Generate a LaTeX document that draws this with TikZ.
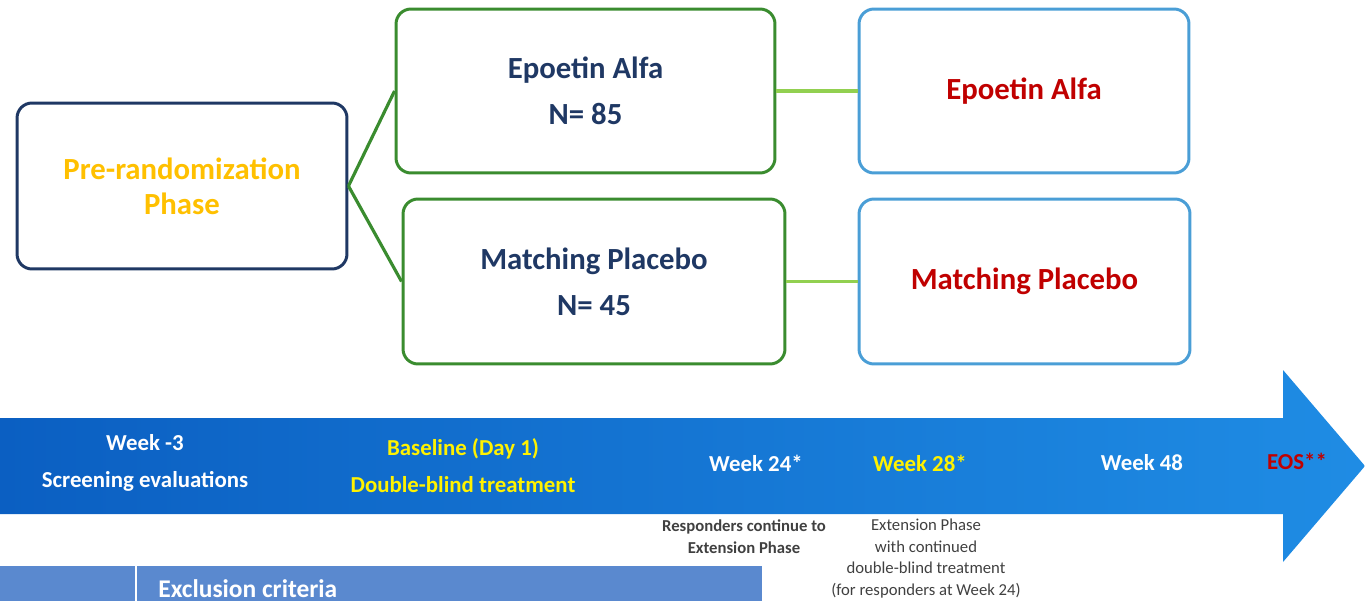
\documentclass[tikz,border=0pt]{standalone}
\usepackage{fontspec}
\setmainfont{Carlito}
\usetikzlibrary{positioning}

\definecolor{navy}{HTML}{1F3864}
\definecolor{boxgreen}{HTML}{3A8C2F}
\definecolor{lightgreen}{HTML}{92D050}
\definecolor{skyline}{HTML}{4A9ED6}
\definecolor{gold}{HTML}{FFC000}
\definecolor{darkred}{HTML}{C00000}
\definecolor{stripblue}{HTML}{5A89CF}
\definecolor{graytext}{HTML}{404040}
\definecolor{arrowdark}{HTML}{0B5FC2}
\definecolor{arrowlight}{HTML}{1F8CE4}

\tikzset{
  phasebox/.style={draw=navy, line width=1.7pt, rounded corners=8.5pt, align=center,
    text=gold, font=\fontsize{17.5}{20}\selectfont\bfseries},
  armbox/.style={draw=boxgreen, line width=1.7pt, rounded corners=8.5pt, align=center,
    text=navy, font=\fontsize{17.5}{26}\selectfont\bfseries},
  extbox/.style={draw=skyline, line width=1.7pt, rounded corners=8.5pt, align=center,
    text=darkred, font=\fontsize{17.5}{26}\selectfont\bfseries},
  link/.style={draw=boxgreen, line width=1.8pt},
  extlink/.style={draw=lightgreen, line width=1.8pt},
  wk/.style={font=\fontsize{13}{21}\selectfont\bfseries, align=center, inner sep=0pt},
  note/.style={font=\fontsize{9.5}{12.2}\selectfont, text=graytext, align=center, inner sep=0pt}
}

\begin{document}
\begin{tikzpicture}[x=0.02cm, y=-0.02cm]
        \useasboundingbox (0,0) rectangle (1365,601);
        \clip (0,0) rectangle (1365,601);

        % boxes
        \node[phasebox, minimum width=6.6cm, minimum height=3.32cm] (pre) at (182,186) {Pre-randomization\\Phase};
        \node[armbox, minimum width=7.58cm, minimum height=3.28cm] (epo) at (585.5,91) {Epoetin Alfa\\N= 85};
        \node[armbox, minimum width=7.64cm, minimum height=3.3cm] (plac) at (594,281.5) {Matching Placebo\\N= 45};
        \node[extbox, minimum width=6.6cm, minimum height=3.28cm] (epoext) at (1024,91) {Epoetin Alfa};
        \node[extbox, minimum width=6.62cm, minimum height=3.3cm] (placext) at (1024.5,281.5) {Matching Placebo};

        \draw[link] (pre.east) -- (epo.west);
        \draw[link] (pre.east) -- (plac.west);
        \draw[extlink] (epo.east) -- (epoext.west);
        \draw[extlink] (plac.east) -- (placext.west);

        % timeline arrow
        \shade[left color=arrowdark, right color=arrowlight]
          (0,418) -- (1283,418) -- (1283,370) -- (1365,466) -- (1283,562) -- (1283,514) -- (0,514) -- cycle;

        \node[wk, text=white] (w3) at (145,462.5) {Week -3\\Screening evaluations};
        \node[wk, text=yellow] (base) at (463,465.5) {Baseline (Day 1)\\Double-blind treatment};
        \node[wk, text=white] (w24) at (756,463) {Week 24*};
        \node[wk, text=yellow] (w28) at (920,463) {Week 28*};
        \node[wk, text=white] (w48) at (1142,463) {Week 48};
        \node[wk, text=darkred] (eos) at (1297,461) {EOS**};

        \node[note, font=\fontsize{9.5}{12.2}\selectfont\bfseries] (resp) at (744,536.5) {Responders continue to\\Extension Phase};
        \node[note] (extn) at (926,558.5) {Extension Phase\\with continued\\double-blind treatment\\(for responders at Week 24)};

        % exclusion strip
        \fill[stripblue] (0,566) rectangle (762,640);
        \draw[white, line width=1pt] (136,566) -- (136,640);
        \node[anchor=base west, inner sep=0pt, text=white, font=\fontsize{14.5}{16}\selectfont\bfseries] (excl) at (158,597) {Exclusion criteria};

      \end{tikzpicture}
\end{document}
